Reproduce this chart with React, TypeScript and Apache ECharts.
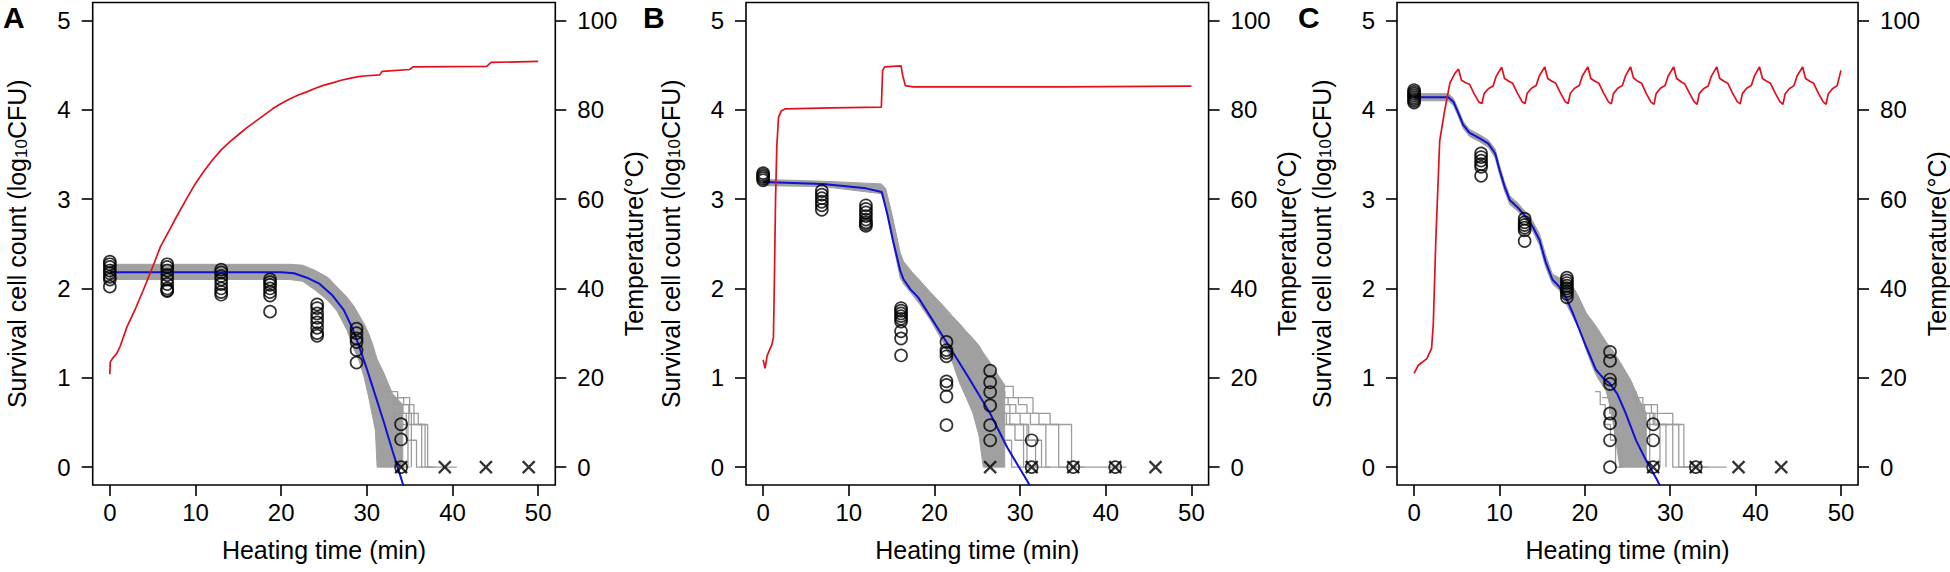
import React, { useEffect, useRef } from 'react';
import * as echarts from 'echarts';

// ---------- shared ticks ----------
const timeTicks = [0, 10, 20, 30, 40, 50];
const countTicks = [0, 1, 2, 3, 4, 5];
const tempTicks = [0, 20, 40, 60, 80, 100];
const panelLetters = ['A', 'B', 'C'];

// ---------- Panel A ----------
const tempA: number[][] = [
  [0, 20.8], [0.05, 23.5], [0.3, 24.3], [0.8, 25.4], [1.2, 27], [2.0, 31.4], [3.0, 35.5], [3.9, 39.6],
  [5.0, 44.8], [5.9, 49.3], [7.0, 53.2], [7.8, 56.1], [9.0, 60.2], [10.0, 63.5], [11.0, 66.3], [12.0, 68.8],
  [13.0, 71.0], [14.0, 72.8], [15.0, 74.4], [16.0, 76.0], [17.0, 77.4], [18.0, 78.8], [19.0, 80.2], [20.0, 81.4],
  [21.0, 82.4], [22.0, 83.3], [23.0, 84.0], [24.0, 84.8], [25.0, 85.5], [26.0, 86.0], [27.0, 86.6], [28.0, 87.0],
  [29.0, 87.4], [30.0, 87.6], [31.5, 87.8], [31.8, 88.6], [35.0, 89.0], [35.4, 89.6], [44.0, 89.7], [44.5, 90.6],
  [50.0, 90.8],
];
const modelA: number[][] = [
  [0, 2.18], [20, 2.18], [21.5, 2.17], [23, 2.12], [24.5, 2.05], [26, 1.92], [27.3, 1.76], [28.2, 1.58],
  [29, 1.38], [30, 1.1], [31, 0.8], [32, 0.5], [33, 0.18], [33.6, 0.0], [34.4, -0.25],
];
const bandA_t = [0, 21, 22.5, 24, 25.5, 26.5, 27.7, 28.5, 29.1, 29.7, 30.2, 30.7, 31.0, 31.2, 32.0, 33.0, 34.2];
const bandA_hi = [2.27, 2.27, 2.26, 2.2, 2.12, 2.02, 1.9, 1.8, 1.7, 1.6, 1.5, 1.37, 1.27, 1.21, 1.05, 0.82, 0.7];
const bandA_lo = [2.1, 2.1, 2.08, 1.98, 1.86, 1.75, 1.53, 1.32, 1.19, 1.0, 0.79, 0.55, 0.41, 0.0, 0.0, 0.0, 0.0];
const tailA: number[][][] = [
  [[33.0, 0.699], [35.5, 0.477], [37.1, 0.301], [37.1, 0], [40.5, 0]],
  [[32.6, 0.778], [34.3, 0.699], [34.9, 0.477], [36.4, 0.301], [36.4, 0], [38.0, 0]],
  [[33.4, 0.602], [34.6, 0.301], [35.8, 0.301], [35.8, 0], [36.5, 0]],
  [[32.0, 0.845], [33.6, 0.699], [34.2, 0.602], [35.2, 0.301], [35.2, 0]],
  [[32.8, 0.602], [33.8, 0.477], [34.8, 0.301], [34.8, 0]],
  [[31.6, 0.903], [32.4, 0.778], [33.2, 0.477], [34.0, 0.301], [34.0, 0], [35.0, 0]],
  [[33.5, 0.778], [35.0, 0.602], [36.0, 0.477], [36.8, 0.301], [36.8, 0], [37.5, 0]],
];
const obsA_t = [0, 6.7, 13, 18.7, 24.2, 28.8, 34];
const obsA_v = [
  [2.3, 2.27, 2.24, 2.2, 2.17, 2.13, 2.1, 2.02],
  [2.27, 2.24, 2.2, 2.15, 2.1, 2.05, 2.0, 1.98, 1.97],
  [2.21, 2.18, 2.14, 2.1, 2.05, 2.0, 1.96, 1.93],
  [2.1, 2.07, 2.04, 2.0, 1.96, 1.92, 1.74],
  [1.82, 1.78, 1.72, 1.67, 1.62, 1.56, 1.5, 1.47],
  [1.55, 1.5, 1.44, 1.4, 1.31, 1.17],
  [0.48, 0.31, 0],
];
const undetA = [34, 39.1, 43.9, 48.9];

// ---------- Panel B ----------
const tempB: number[][] = [
  [0, 24.0], [0.23, 22.1], [0.45, 24.8], [0.65, 25.8], [1.0, 27.3], [1.2, 29], [1.3, 40], [1.45, 60],
  [1.6, 72], [1.8, 78.3], [2.1, 79.7], [2.6, 80.2], [8, 80.4], [13.8, 80.6], [13.95, 88.8], [14.2, 89.6],
  [16.1, 89.8], [16.3, 87.6], [16.6, 85.4], [17.5, 85.1], [35, 85.1], [50, 85.3],
];
const modelB: number[][] = [
  [0, 3.19], [7, 3.17], [12, 3.12], [13.85, 3.08], [14.5, 2.83], [15.2, 2.52], [16.0, 2.2], [16.4, 2.1],
  [17.2, 1.99], [18.1, 1.9], [21.4, 1.40], [24, 1.0], [26.5, 0.6], [28.5, 0.22], [30.8, -0.15], [31.5, -0.27],
];
const bandB_t = [0, 7, 13.8, 14.3, 15.0, 16.0, 16.4, 17.5, 18.3, 19.5, 21.0, 22.0, 22.9, 23.7, 24.5, 25.2, 25.7, 26.5, 27.5, 28.2];
const bandB_hi = [3.22, 3.2, 3.17, 3.12, 2.85, 2.4, 2.3, 2.17, 2.09, 1.96, 1.81, 1.70, 1.61, 1.52, 1.44, 1.36, 1.28, 1.17, 1.02, 0.92];
const bandB_lo = [3.15, 3.14, 3.06, 2.92, 2.58, 2.12, 2.05, 1.92, 1.82, 1.65, 1.40, 1.20, 0.95, 0.78, 0.6, 0.35, 0.0, 0.0, 0.0, 0.0];
const tailB: number[][][] = [
  [[27.5, 0.845], [28.2, 0.778], [29.8, 0.699], [30.8, 0.602], [33.5, 0.477], [36.0, 0.301], [36.0, 0], [42.4, 0]],
  [[27.0, 0.778], [28.6, 0.699], [29.5, 0.602], [31.2, 0.477], [33.0, 0.301], [33.0, 0], [37.5, 0]],
  [[27.2, 0.699], [28.8, 0.477], [30.4, 0.301], [30.4, 0], [33.5, 0]],
  [[26.8, 0.602], [28.0, 0.477], [29.4, 0.301], [31.8, 0.301], [31.8, 0]],
  [[27.8, 0.602], [30.0, 0.477], [31.0, 0.301], [32.5, 0.301], [32.5, 0]],
  [[26.5, 0.477], [27.6, 0.301], [29.0, 0.301], [29.0, 0], [30.5, 0]],
  [[28.0, 0.903], [29.2, 0.778], [31.5, 0.602], [32.2, 0.477], [34.5, 0.301], [34.5, 0], [35.5, 0]],
  [[26.6, 0.699], [27.4, 0.602], [28.4, 0.477], [30.8, 0.301], [30.8, 0], [31.2, 0]],
];
const obsB_t = [0, 6.85, 12.0, 16.1, 21.4, 26.5, 31.35, 36.2, 41.1];
const obsB_v = [
  [3.29, 3.27, 3.25, 3.23, 3.21],
  [3.09, 3.05, 3.01, 2.97, 2.93, 2.88],
  [2.93, 2.89, 2.85, 2.81, 2.77, 2.74, 2.72, 2.7],
  [1.78, 1.75, 1.72, 1.69, 1.66, 1.63, 1.52, 1.44, 1.25],
  [1.40, 1.31, 1.28, 1.24, 0.96, 0.92, 0.79, 0.47],
  [1.08, 0.95, 0.84, 0.69, 0.47, 0.3],
  [0.3, 0],
  [0],
  [0],
];
const undetB = [26.5, 31.35, 36.2, 41.1, 45.8];

// ---------- Panel C ----------
const tempC: number[][] = [
  [0, 21.0], [0.5, 22.8], [1.5, 24.3], [2.05, 26.6], [2.25, 32], [2.55, 51], [3.0, 73], [3.6, 80], [4.2, 86], [4.8, 88.2], [5.2, 89.1],
  [5.55, 86.6], [6.1, 86.0], [6.5, 85.7], [7.05, 83.5], [7.6, 81.7], [7.95, 81.4], [8.2, 83.6], [8.7, 84.7], [9.25, 85.3], [9.6, 87.4], [10.25, 89.5],
  [10.6, 87.0], [11.15, 86.3], [11.55, 85.9], [12.1, 83.7], [12.65, 81.8], [13.0, 81.4], [13.25, 83.7], [13.75, 84.8], [14.3, 85.4], [14.65, 87.5], [15.3, 89.6],
  [15.65, 87.0], [16.2, 86.3], [16.6, 85.9], [17.15, 83.7], [17.7, 81.8], [18.05, 81.4], [18.3, 83.7], [18.8, 84.8], [19.35, 85.4], [19.7, 87.5], [20.35, 89.6],
  [20.7, 87.0], [21.25, 86.3], [21.65, 85.9], [22.2, 83.7], [22.75, 81.8], [23.1, 81.3], [23.35, 83.6], [23.85, 84.8], [24.4, 85.4], [24.75, 87.5], [25.35, 89.6],
  [25.7, 87.1], [26.25, 86.3], [26.65, 85.9], [27.2, 83.6], [27.75, 81.7], [28.1, 81.2], [28.35, 83.6], [28.85, 84.8], [29.4, 85.4], [29.75, 87.5], [30.4, 89.6],
  [30.75, 87.0], [31.3, 86.2], [31.7, 85.8], [32.25, 83.7], [32.8, 81.8], [33.15, 81.2], [33.4, 83.6], [33.9, 84.7], [34.45, 85.3], [34.8, 87.4], [35.45, 89.6],
  [35.8, 87.0], [36.35, 86.3], [36.75, 85.9], [37.3, 83.7], [37.85, 81.8], [38.2, 81.3], [38.45, 83.6], [38.95, 84.8], [39.5, 85.4], [39.85, 87.5], [40.45, 89.6],
  [40.8, 87.0], [41.35, 86.3], [41.75, 85.9], [42.3, 83.7], [42.85, 81.8], [43.2, 81.2], [43.45, 83.5], [43.95, 84.7], [44.5, 85.4], [44.85, 87.5], [45.5, 89.6],
  [45.85, 87.0], [46.4, 86.3], [46.8, 85.9], [47.35, 83.7], [47.9, 81.8], [48.25, 81.2], [48.5, 83.5], [49.0, 84.7], [49.55, 85.4], [50.0, 88.8],
];
const modelC: number[][] = [
  [0, 4.14], [4.0, 4.14], [4.6, 4.09], [5.2, 3.96], [5.75, 3.83], [6.5, 3.74], [7.7, 3.68], [8.7, 3.62],
  [9.5, 3.51], [10.0, 3.33], [10.6, 3.14], [11.2, 2.99], [12.2, 2.90], [13.1, 2.80], [13.9, 2.69], [14.7, 2.54],
  [15.4, 2.3], [16.2, 2.1], [17.0, 2.02], [17.8, 1.9], [18.6, 1.72], [20.15, 1.35], [21.3, 1.09], [22.2, 0.99],
  [22.9, 0.94], [23.8, 0.82], [24.8, 0.60], [26.0, 0.30], [27.15, 0.08], [28.5, -0.15], [29.0, -0.25],
];
const bandC_t = [0, 4.0, 4.6, 5.2, 5.75, 6.5, 7.7, 8.7, 9.5, 10.0, 10.6, 11.2, 12.2, 13.1, 13.9, 14.7, 15.4, 16.2, 17.0, 18.4, 19.3, 20.2, 21.0, 21.5, 22.5, 22.9, 23.3, 24.1, 25.4, 26.4, 27.2];
const bandC_hi = [4.18, 4.18, 4.13, 4.0, 3.87, 3.78, 3.72, 3.66, 3.56, 3.38, 3.19, 3.04, 2.95, 2.85, 2.75, 2.61, 2.38, 2.16, 2.12, 2.06, 1.9, 1.72, 1.62, 1.55, 1.4, 1.35, 1.3, 1.18, 0.97, 0.75, 0.6];
const bandC_lo = [4.10, 4.10, 4.05, 3.92, 3.79, 3.70, 3.64, 3.58, 3.46, 3.28, 3.09, 2.94, 2.86, 2.76, 2.64, 2.48, 2.24, 2.05, 1.98, 1.72, 1.55, 1.3, 1.1, 1.0, 0.85, 0.7, 0.5, 0.0, 0.0, 0.0, 0.0];
const tailC: number[][][] = [
  [[26.5, 0.699], [28.5, 0.477], [31.6, 0.301], [31.6, 0], [36.6, 0]],
  [[26.6, 0.699], [27.8, 0.602], [30.3, 0.301], [30.3, 0], [33.0, 0]],
  [[25.5, 0.778], [26.2, 0.602], [28.2, 0.477], [29.5, 0.301], [29.5, 0]],
  [[25.0, 0.845], [26.0, 0.699], [27.0, 0.477], [28.8, 0.301], [28.8, 0]],
  [[21.2, 0.845], [21.8, 0.699], [22.4, 0.477], [23.0, 0.301], [23.6, 0], [24.5, 0]],
  [[22.0, 0.778], [22.9, 0.602], [23.5, 0.301], [24.2, 0]],
  [[27.0, 0.602], [28.0, 0.477], [30.6, 0.477], [31.0, 0.301], [31.0, 0], [34.5, 0]],
  [[24.5, 0.903], [25.6, 0.778], [26.8, 0.602], [27.6, 0.301], [27.6, 0]],
];
const obsC_t = [0, 7.85, 12.95, 17.9, 22.95, 28, 33];
const obsC_v = [
  [4.22, 4.2, 4.18, 4.16, 4.14, 4.12, 4.1, 4.08],
  [3.51, 3.47, 3.43, 3.39, 3.36, 3.26],
  [2.78, 2.74, 2.71, 2.68, 2.65, 2.53],
  [2.12, 2.09, 2.06, 2.03, 2.0, 1.97, 1.94, 1.9],
  [1.29, 1.19, 0.98, 0.93, 0.6, 0.49, 0.3, 0],
  [0.48, 0.3, 0],
  [0],
];
const undetC = [28, 33, 38, 43];

// ---------- layout / style ----------
const FONT = '"Liberation Sans", Arial, Helvetica, sans-serif';
const GRID_LEFT = [92.7, 746, 1397];
const LETTER_X = [3, 643, 1298];
const GRID_TOP = 2.5;
const GRID_W = 462.6;
const GRID_H = 482.5;
const RED = '#e0101c';
const BLUE = '#1010d8';
const GRAY_FILL = '#a0a0a0';
const GRAY_LINE = '#9c9c9c';

const panels = [
  { temp: tempA, model: modelA, bt: bandA_t, hi: bandA_hi, lo: bandA_lo, tails: tailA, obsT: obsA_t, obsV: obsA_v, undet: undetA },
  { temp: tempB, model: modelB, bt: bandB_t, hi: bandB_hi, lo: bandB_lo, tails: tailB, obsT: obsB_t, obsV: obsB_v, undet: undetB },
  { temp: tempC, model: modelC, bt: bandC_t, hi: bandC_hi, lo: bandC_lo, tails: tailC, obsT: obsC_t, obsV: obsC_v, undet: undetC },
];

function buildOption(): any {
  const tickStyle = { color: '#000', width: 1.6 };
  const labelStyle = { color: '#000', fontSize: 24, fontFamily: FONT };
  const grid: any[] = [];
  const xAxis: any[] = [];
  const yAxis: any[] = [];
  const series: any[] = [];
  const graphic: any[] = [];

  panels.forEach((p, i) => {
    grid.push({
      left: GRID_LEFT[i], top: GRID_TOP, width: GRID_W, height: GRID_H,
      show: true, borderColor: '#000', borderWidth: 1.6, backgroundColor: 'rgba(0,0,0,0)',
    });
    xAxis.push({
      type: 'value', gridIndex: i, min: -2, max: 52,
      name: 'Heating time (min)', nameLocation: 'middle', nameGap: 52,
      nameTextStyle: { color: '#000', fontSize: 25, fontFamily: FONT },
      axisLine: { show: false, onZero: false },
      axisTick: { show: true, length: 11, customValues: timeTicks, lineStyle: tickStyle },
      axisLabel: { ...labelStyle, customValues: timeTicks, margin: 15 },
      splitLine: { show: false },
    });
    yAxis.push({
      type: 'value', gridIndex: i, position: 'left', min: -0.2, max: 5.2,
      axisLine: { show: false, onZero: false },
      axisTick: { show: true, length: 11, customValues: countTicks, lineStyle: tickStyle },
      axisLabel: { ...labelStyle, customValues: countTicks, margin: 22 },
      splitLine: { show: false },
    });
    yAxis.push({
      type: 'value', gridIndex: i, position: 'right', min: -4, max: 104,
      name: 'Temperature(°C)', nameLocation: 'middle', nameGap: 57, nameRotate: 90,
      nameTextStyle: { color: '#000', fontSize: 25, fontFamily: FONT },
      axisLine: { show: false, onZero: false },
      axisTick: { show: true, length: 11, customValues: tempTicks, lineStyle: tickStyle },
      axisLabel: { ...labelStyle, customValues: tempTicks, margin: 22 },
      splitLine: { show: false },
    });

    // left axis title (with subscript), rotated, centred on the plot box
    graphic.push({
      type: 'text', x: GRID_LEFT[i] - 78, y: GRID_TOP + GRID_H / 2, rotation: Math.PI / 2,
      style: {
        text: '{n|Survival cell count (log}{s|10}{n|CFU)}',
        align: 'center', verticalAlign: 'middle', fill: '#000',
        rich: {
          n: { fontSize: 25, fontFamily: FONT, fill: '#000', lineHeight: 30, verticalAlign: 'bottom' },
          s: { fontSize: 17, fontFamily: FONT, fill: '#000', lineHeight: 17, verticalAlign: 'bottom' },
        },
      },
    });
    graphic.push({
      type: 'text', left: LETTER_X[i], top: 2,
      style: { text: panelLetters[i], fill: '#000', font: `bold 30px ${FONT}` },
    });

    const yL = i * 2;
    const yR = i * 2 + 1;
    // envelope of the stochastic simulations (polygon between upper and lower bounds)
    series.push({
      type: 'custom', xAxisIndex: i, yAxisIndex: yL, silent: true, z: 1,
      data: [[p.bt[0], p.lo[0]]],
      renderItem: (_params: any, api: any) => {
        const pts: number[][] = [];
        p.bt.forEach((t, k) => pts.push(api.coord([t, p.hi[k]])));
        for (let k = p.bt.length - 1; k >= 0; k--) pts.push(api.coord([p.bt[k], p.lo[k]]));
        return {
          type: 'polygon', shape: { points: pts },
          style: { fill: GRAY_FILL, stroke: GRAY_FILL, lineWidth: 1 },
        };
      },
    });
    p.tails.forEach((tl) => {
      series.push({
        type: 'line', xAxisIndex: i, yAxisIndex: yL, step: 'end', silent: true,
        data: tl, symbol: 'none', lineStyle: { width: 1.3, color: GRAY_LINE }, z: 1,
      });
    });
    // model prediction
    series.push({
      type: 'line', xAxisIndex: i, yAxisIndex: yL, data: p.model, symbol: 'none',
      lineStyle: { width: 2, color: BLUE }, z: 3, clip: true,
    });
    // observations
    const obs: number[][] = [];
    p.obsT.forEach((t, k) => p.obsV[k].forEach((v) => obs.push([t, v])));
    series.push({
      type: 'scatter', xAxisIndex: i, yAxisIndex: yL, data: obs, symbol: 'circle', symbolSize: 12,
      itemStyle: { color: 'rgba(0,0,0,0)', borderColor: '#000', borderWidth: 1.7 }, z: 4,
    });
    series.push({
      type: 'scatter', xAxisIndex: i, yAxisIndex: yL, data: p.undet.map((t) => [t, 0]),
      symbol: 'path://M0,0L10,10M10,0L0,10', symbolSize: 12,
      itemStyle: { color: 'none', borderColor: '#000', borderWidth: 2.2 }, z: 4,
    });
    // temperature
    series.push({
      type: 'line', xAxisIndex: i, yAxisIndex: yR, data: p.temp, symbol: 'none',
      lineStyle: { width: 1.7, color: RED }, z: 5,
    });
  });

  return { animation: false, backgroundColor: '#fff', grid, xAxis, yAxis, series, graphic };
}

export default function App() {
  const ref = useRef<HTMLDivElement>(null);
  useEffect(() => {
    document.body.style.margin = '0';
    const chart = echarts.init(ref.current as HTMLDivElement, null, { renderer: 'svg', width: 1950, height: 572 });
    chart.setOption(buildOption());
    return () => chart.dispose();
  }, []);
  return <div ref={ref} style={{ width: 1950, height: 572, overflow: 'hidden' }} />;
}
